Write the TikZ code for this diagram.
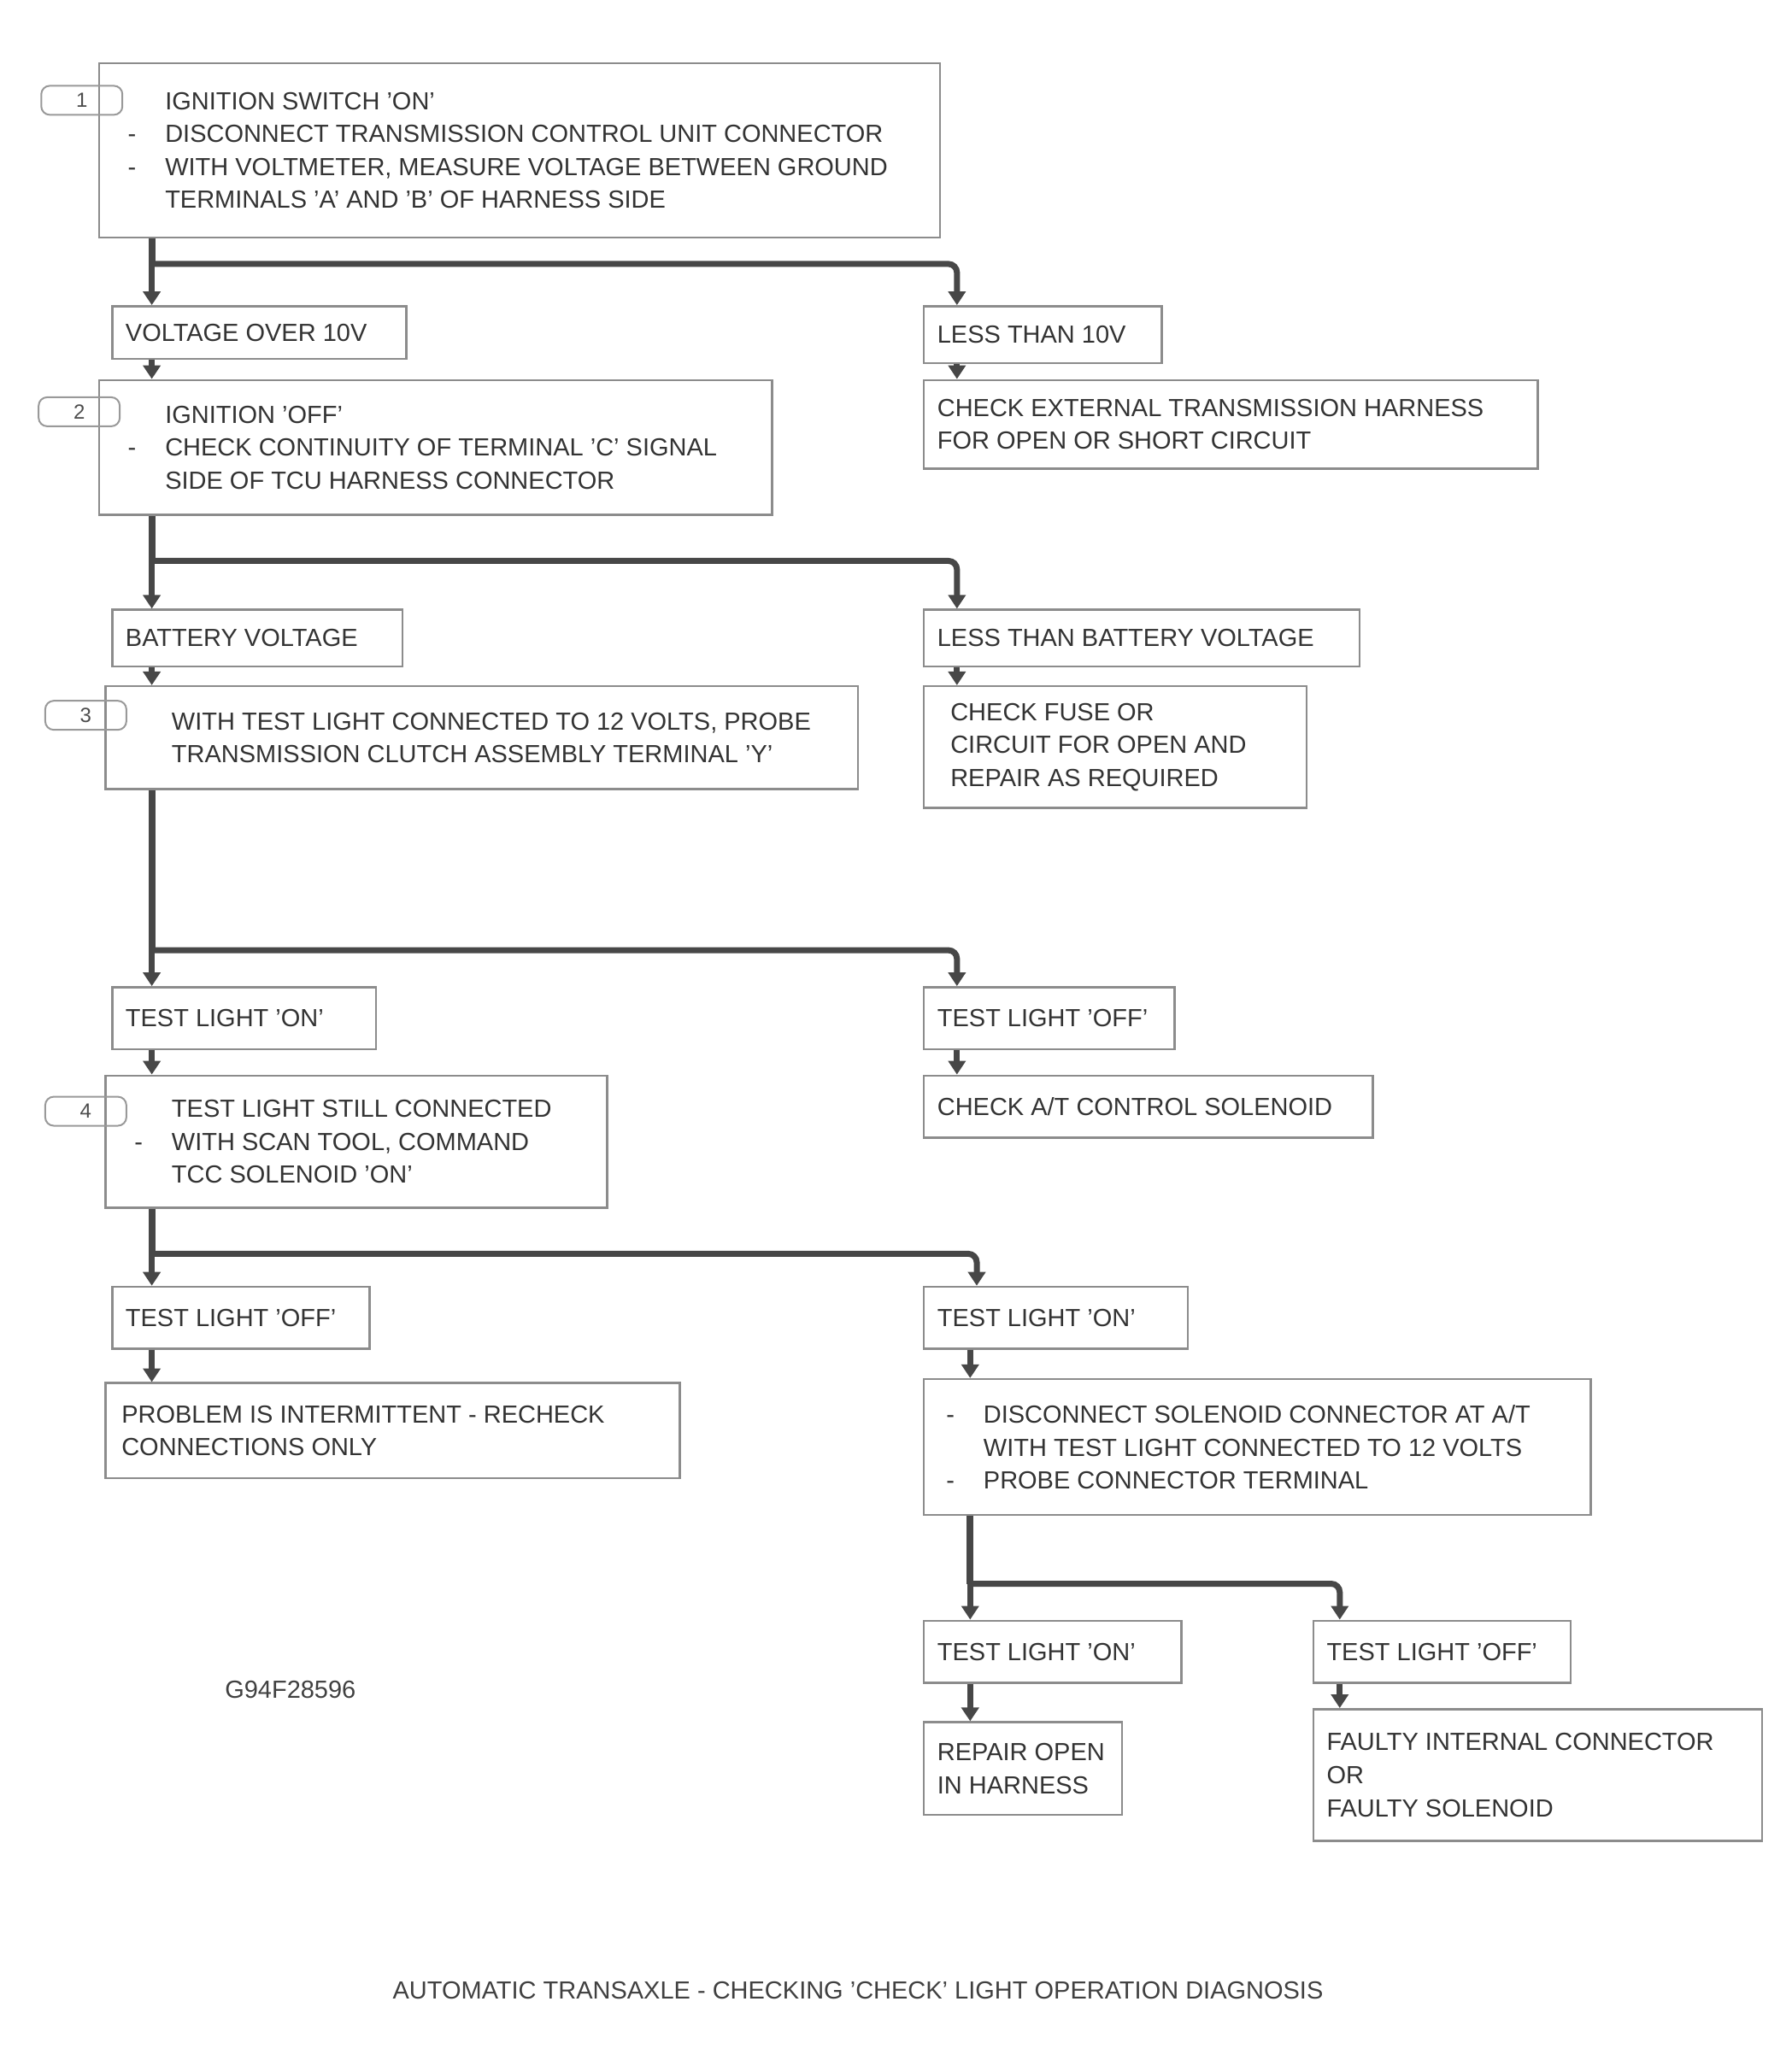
\documentclass[tikz,border=0pt]{standalone}
\usepackage{fontspec}
\setmainfont{Liberation Sans}
\usetikzlibrary{arrows.meta}
\tikzset{
  bx/.style={draw=black!45, line width=2.5pt, inner sep=0pt, fill=white},
  tx/.style={inner sep=0pt, align=left, text=black!80, font=\fontsize{29}{38.6}\selectfont},
  mk/.style={draw=black!40, line width=2pt, rounded corners=10pt, minimum width=95pt, minimum height=34pt, inner sep=0pt, text=black!70, font=\fontsize{24}{28}\selectfont},
  trunk/.style={draw=black!72, line width=8pt, rounded corners=10pt},
  arr/.style={draw=black!72, line width=7pt, -{Triangle[length=16pt,width=20pt]}},
  captxt/.style={inner sep=0pt, text=black!75, font=\fontsize{29}{32}\selectfont}
}
\newcommand\bx[7]{%
  \node[bx, minimum width={(#4-#2)*1.5453pt}, minimum height={(#5-#3)*1.5453pt}] (#1) at ({(#2+#4)/2},{(#3+#5)/2}) {};
  \node[tx, anchor=west] (#1t) at ({#2+#6},{(#3+#5)/2}) {#7};}
\newcommand\bl{\llap{-\hspace{34pt}}}
\begin{document}
\begin{tikzpicture}[x=1.5453pt,y=-1.5453pt]
\useasboundingbox (0,0) rectangle (1357,1570);
% ---- boxes
\bx{top}{75}{48}{712}{180}{50}{IGNITION SWITCH 'ON'\\\bl DISCONNECT TRANSMISSION CONTROL UNIT CONNECTOR\\\bl WITH VOLTMETER, MEASURE VOLTAGE BETWEEN GROUND\\TERMINALS 'A' AND 'B' OF HARNESS SIDE}
\bx{ltwo}{85}{232}{308}{272}{10}{VOLTAGE OVER 10V}
\bx{rtwo}{700}{232}{880}{275}{10}{LESS THAN 10V}
\bx{lthree}{75}{288}{585}{390}{50}{IGNITION 'OFF'\\\bl CHECK CONTINUITY OF TERMINAL 'C' SIGNAL\\SIDE OF TCU HARNESS CONNECTOR}
\bx{rthree}{700}{288}{1165}{355}{10}{CHECK EXTERNAL TRANSMISSION HARNESS\\FOR OPEN OR SHORT CIRCUIT}
\bx{lfour}{85}{462}{305}{505}{10}{BATTERY VOLTAGE}
\bx{rfour}{700}{462}{1030}{505}{10}{LESS THAN BATTERY VOLTAGE}
\bx{lfive}{80}{520}{650}{598}{50}{WITH TEST LIGHT CONNECTED TO 12 VOLTS, PROBE\\TRANSMISSION CLUTCH ASSEMBLY TERMINAL 'Y'}
\bx{rfive}{700}{520}{990}{612}{20}{CHECK FUSE OR\\CIRCUIT FOR OPEN AND\\REPAIR AS REQUIRED}
\bx{lsix}{85}{748}{285}{795}{10}{TEST LIGHT 'ON'}
\bx{rsix}{700}{748}{890}{795}{10}{TEST LIGHT 'OFF'}
\bx{lseven}{80}{815}{460}{915}{50}{TEST LIGHT STILL CONNECTED\\\bl WITH SCAN TOOL, COMMAND\\TCC SOLENOID 'ON'}
\bx{rseven}{700}{815}{1040}{862}{10}{CHECK A/T CONTROL SOLENOID}
\bx{leight}{85}{975}{280}{1022}{10}{TEST LIGHT 'OFF'}
\bx{reight}{700}{975}{900}{1022}{10}{TEST LIGHT 'ON'}
\bx{lnine}{80}{1048}{515}{1120}{12}{PROBLEM IS INTERMITTENT - RECHECK\\CONNECTIONS ONLY}
\bx{rnine}{700}{1045}{1205}{1148}{45}{\bl DISCONNECT SOLENOID CONNECTOR AT A/T\\WITH TEST LIGHT CONNECTED TO 12 VOLTS\\\bl PROBE CONNECTOR TERMINAL}
\bx{rtena}{700}{1228}{895}{1275}{10}{TEST LIGHT 'ON'}
\bx{rtenb}{995}{1228}{1190}{1275}{10}{TEST LIGHT 'OFF'}
\bx{relva}{700}{1305}{850}{1375}{10}{REPAIR OPEN\\IN HARNESS}
\bx{relvb}{995}{1295}{1335}{1395}{10}{FAULTY INTERNAL CONNECTOR\\OR\\FAULTY SOLENOID}
% ---- step markers
\node[mk] (mone) at (62,76) {1};
\node[mk] (mtwo) at (60,312) {2};
\node[mk] (mthree) at (65,542) {3};
\node[mk] (mfour) at (65,842) {4};
% ---- junction coordinates
\coordinate (ja) at (115,200); \coordinate (ka) at (725,200);
\coordinate (jb) at (115,425); \coordinate (kb) at (725,425);
\coordinate (jc) at (115,720); \coordinate (kc) at (725,720);
\coordinate (jd) at (115,950); \coordinate (kd) at (740,950);
\coordinate (je) at (735,1200); \coordinate (ke) at (1015,1200);
% ---- branches
\draw[trunk] (ja |- top.south) -- (ja);
\draw[arr, rounded corners=10pt] (ja) -- (ka) -- (ka |- rtwo.north);
\draw[arr] (ja) -- (ja |- ltwo.north);
\draw[arr] (ja |- ltwo.south) -- (ja |- lthree.north);
\draw[arr] (ka |- rtwo.south) -- (ka |- rthree.north);
\draw[trunk] (jb |- lthree.south) -- (jb);
\draw[arr, rounded corners=10pt] (jb) -- (kb) -- (kb |- rfour.north);
\draw[arr] (jb) -- (jb |- lfour.north);
\draw[arr] (jb |- lfour.south) -- (jb |- lfive.north);
\draw[arr] (kb |- rfour.south) -- (kb |- rfive.north);
\draw[trunk] (jc |- lfive.south) -- (jc);
\draw[arr, rounded corners=10pt] (jc) -- (kc) -- (kc |- rsix.north);
\draw[arr] (jc) -- (jc |- lsix.north);
\draw[arr] (jc |- lsix.south) -- (jc |- lseven.north);
\draw[arr] (kc |- rsix.south) -- (kc |- rseven.north);
\draw[trunk] (jd |- lseven.south) -- (jd);
\draw[arr, rounded corners=10pt] (jd) -- (kd) -- (kd |- reight.north);
\draw[arr] (jd) -- (jd |- leight.north);
\draw[arr] (jd |- leight.south) -- (jd |- lnine.north);
\draw[arr] (je |- reight.south) -- (je |- rnine.north);
\draw[trunk] (je |- rnine.south) -- (je);
\draw[arr, rounded corners=10pt] (je) -- (ke) -- (ke |- rtenb.north);
\draw[arr] (je) -- (je |- rtena.north);
\draw[arr] (je |- rtena.south) -- (je |- relva.north);
\draw[arr] (ke |- rtenb.south) -- (ke |- relvb.north);
% ---- labels
\node[captxt] (fig) at (220,1280) {G94F28596};
\node[captxt] (caption) at (650,1508) {AUTOMATIC TRANSAXLE - CHECKING 'CHECK' LIGHT OPERATION DIAGNOSIS};
\end{tikzpicture}
\end{document}
